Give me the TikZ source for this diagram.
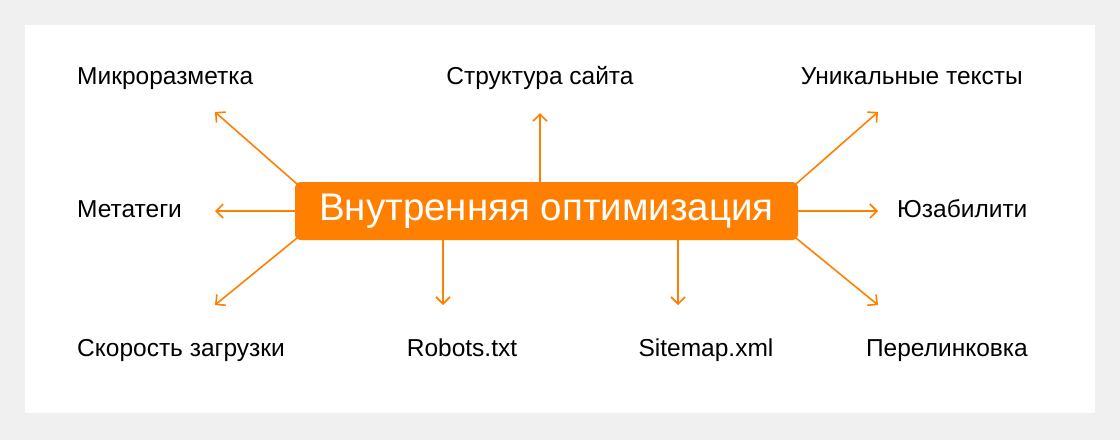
\documentclass[tikz,border=0pt]{standalone}
\usepackage{fontspec}
\setmainfont{Liberation Sans}
\usetikzlibrary{arrows.meta}
\definecolor{seoorange}{HTML}{FF8000}
\definecolor{seobg}{HTML}{F0F0F0}
\tikzset{
  lbl/.style={font=\fontsize{24.5}{28}\selectfont, text=black, inner sep=0pt, text height=18pt, text depth=5pt},
  ray/.style={draw=seoorange, line width=1.6pt, -{Straight Barb[length=7pt,width=14pt]}}
}
\begin{document}
\begin{tikzpicture}[x=1pt,y=-1pt]
  \fill[seobg] (0,0) rectangle (1120,440);
  \fill[white] (25,25) rectangle (1095,413);

  \node[fill=seoorange, rounded corners=5pt, minimum width=503pt, minimum height=58pt,
        text=white, font=\fontsize{38.5}{44}\selectfont] (core) at (546.5,211) {Внутренняя оптимизация};

  \node[lbl, anchor=west] (micro) at (77,78) {Микроразметка};
  \node[lbl] (struct) at (540,78) {Структура сайта};
  \node[lbl, anchor=east] (uniq) at (1023,78) {Уникальные тексты};
  \node[lbl, anchor=west] (meta) at (77,211) {Метатеги};
  \node[lbl, anchor=west] (usab) at (897,211) {Юзабилити};
  \node[lbl, anchor=west] (speed) at (77,350) {Скорость загрузки};
  \node[lbl] (robots) at (462,350) {Robots.txt};
  \node[lbl] (sitemap) at (706,350) {Sitemap.xml};
  \node[lbl, anchor=east] (links) at (1028,350) {Перелинковка};

  \coordinate (tMicro) at (215,112);
  \coordinate (tStruct) at (540,113);
  \coordinate (tUniq) at (878,112);
  \coordinate (tMeta) at (215,211);
  \coordinate (tUsab) at (878,211);
  \coordinate (tSpeed) at (215,305);
  \coordinate (tRobots) at (443,305);
  \coordinate (tSitemap) at (678,305);
  \coordinate (tLinks) at (878,305);

  \draw[ray] (core.north west) ++(2,2) -- (tMicro);
  \draw[ray] (540,182) -- (tStruct);
  \draw[ray] (core.north east) ++(-2,2) -- (tUniq);
  \draw[ray] (core.west) -- (tMeta);
  \draw[ray] (core.east) -- (tUsab);
  \draw[ray] (core.south west) ++(2,-2) -- (tSpeed);
  \draw[ray] (443,240) -- (tRobots);
  \draw[ray] (678,240) -- (tSitemap);
  \draw[ray] (core.south east) ++(-2,-2) -- (tLinks);
\end{tikzpicture}
\end{document}
